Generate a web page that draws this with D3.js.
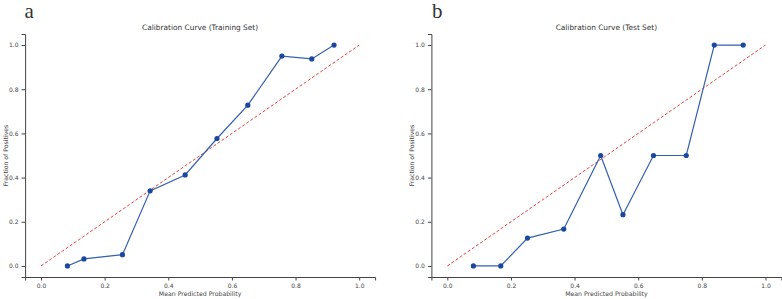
<!DOCTYPE html>
<html>
<head>
<meta charset="utf-8">
<script src="https://cdn.jsdelivr.net/npm/d3@7"></script>
<style>
  body { margin: 0; background: #fff; }
  svg { display: block; font-family: "DejaVu Sans", sans-serif; }
</style>
</head>
<body>
<div id="chart"></div>
<script>
// calibration points
const trainX = [0.083, 0.135, 0.256, 0.343, 0.453, 0.553, 0.65, 0.757, 0.851, 0.921];
const trainY = [0.0, 0.032, 0.051, 0.34, 0.412, 0.577, 0.728, 0.95, 0.937, 1.0];
const testX = [0.082, 0.168, 0.252, 0.366, 0.482, 0.552, 0.648, 0.751, 0.839, 0.93];
const testY = [0.0, 0.0, 0.126, 0.167, 0.5, 0.232, 0.5, 0.5, 1.0, 1.0];
const ticks = [0.0, 0.2, 0.4, 0.6, 0.8, 1.0];

const panels = [
  { letter: 'a', title: 'Calibration Curve (Training Set)', xs: trainX, ys: trainY, left: 25.1, letterX: 24.5 },
  { letter: 'b', title: 'Calibration Curve (Test Set)', xs: testX, ys: testY, left: 431.4, letterX: 432 }
];

const W = 782, H = 299;
const svg = d3.select('#chart').append('svg')
  .attr('width', W)
  .attr('height', H);

const plotW = 350, plotTop = 34, plotBottom = 277;

panels.forEach(function(p) {
  const x = d3.scaleLinear().domain([-0.05, 1.05]).range([p.left, p.left + plotW]);
  const y = d3.scaleLinear().domain([-0.05, 1.05]).range([plotBottom, plotTop]);
  const g = svg.append('g');

  // letter label
  g.append('text')
    .attr('x', p.letterX)
    .attr('y', 18)
    .attr('font-family', '"Liberation Serif", "DejaVu Serif", serif')
    .attr('font-size', 21)
    .attr('fill', '#333')
    .text(p.letter);

  g.append('text')
    .attr('x', x(0.5))
    .attr('y', 30)
    .attr('text-anchor', 'middle')
    .attr('font-size', 7.4)
    .attr('fill', '#333')
    .text(p.title);

  // axes (only left and bottom spines)
  const xAxis = g.append('g')
    .attr('transform', 'translate(0,' + plotBottom + ')')
    .call(d3.axisBottom(x).tickValues(ticks).tickFormat(d3.format('.1f')).tickSize(3.5).tickPadding(3));
  const yAxis = g.append('g')
    .attr('transform', 'translate(' + p.left + ',0)')
    .call(d3.axisLeft(y).tickValues(ticks).tickFormat(d3.format('.1f')).tickSize(3.5).tickPadding(3));
  [xAxis, yAxis].forEach(function(a) {
    a.select('.domain').attr('stroke', '#444').attr('stroke-width', 1);
    a.selectAll('.tick line').attr('stroke', '#444');
    a.selectAll('.tick text').attr('font-size', 6).attr('fill', '#444')
      .attr('font-family', '"DejaVu Sans", sans-serif');
  });

  g.append('text')
    .attr('x', x(0.5))
    .attr('y', 296)
    .attr('text-anchor', 'middle')
    .attr('font-size', 6.2)
    .attr('fill', '#444')
    .text('Mean Predicted Probability');

  g.append('text')
    .attr('transform', 'translate(' + (p.left - 17) + ',' + y(0.5) + ') rotate(-90)')
    .attr('text-anchor', 'middle')
    .attr('font-size', 6.2)
    .attr('fill', '#444')
    .text('Fraction of Positives');

  // perfect calibration reference
  g.append('line')
    .attr('x1', x(0)).attr('y1', y(0))
    .attr('x2', x(1)).attr('y2', y(1))
    .attr('stroke', '#e8413c')
    .attr('stroke-width', 1)
    .attr('stroke-dasharray', '3,2');

  const pts = p.xs.map(function(v, i) { return [v, p.ys[i]]; });
  const line = d3.line().x(function(d) { return x(d[0]); }).y(function(d) { return y(d[1]); });

  g.append('path')
    .datum(pts)
    .attr('d', line)
    .attr('fill', 'none')
    .attr('stroke', '#3560ae')
    .attr('stroke-width', 1.2);

  g.selectAll('circle.pt')
    .data(pts)
    .enter()
    .append('circle')
    .attr('class', 'pt')
    .attr('cx', function(d) { return x(d[0]); })
    .attr('cy', function(d) { return y(d[1]); })
    .attr('r', 2.6)
    .attr('fill', '#1a48a0');
});
</script>
</body>
</html>
